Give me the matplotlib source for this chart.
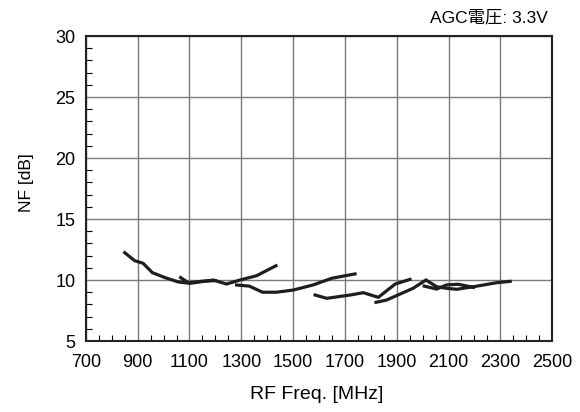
import matplotlib
matplotlib.use("Agg")
import matplotlib.pyplot as plt
from matplotlib.ticker import MultipleLocator

plt.rcParams['font.family'] = ['Liberation Sans', 'Noto Sans CJK JP', 'DejaVu Sans']

# Curves (frequency MHz, NF dB)
f_a = [850, 889, 921, 957, 1005, 1057, 1102, 1192, 1243, 1295, 1359, 1434]
nf_a = [12.24, 11.58, 11.37, 10.6, 10.2, 9.84, 9.73, 10.0, 9.67, 10.0, 10.35, 11.17]

f_b = [1066, 1095, 1150, 1200]
nf_b = [10.2, 9.78, 9.9, 9.95]

f_c = [1282, 1331, 1382, 1436, 1501, 1578, 1649, 1739]
nf_c = [9.59, 9.5, 9.0, 9.0, 9.18, 9.6, 10.14, 10.5]

f_d = [1585, 1630, 1720, 1771, 1829, 1894, 1951]
nf_d = [8.77, 8.5, 8.77, 8.96, 8.58, 9.67, 10.05]

f_e = [1820, 1861, 1963, 2013, 2054, 2093, 2132, 2196, 2286, 2338]
nf_e = [8.17, 8.36, 9.32, 10.0, 9.45, 9.32, 9.24, 9.45, 9.78, 9.89]

f_f = [2006, 2054, 2093, 2138, 2196]
nf_f = [9.5, 9.26, 9.6, 9.65, 9.4]

x_ticks = [700, 900, 1100, 1300, 1500, 1700, 1900, 2100, 2300, 2500]
y_ticks = [5, 10, 15, 20, 25, 30]

fig = plt.figure(figsize=(5.8, 4.12), dpi=100)
ax = fig.add_axes([0.148, 0.1723, 0.804, 0.7403])

for fx, ny in [(f_a, nf_a), (f_b, nf_b), (f_c, nf_c), (f_d, nf_d), (f_e, nf_e), (f_f, nf_f)]:
    ax.plot(fx, ny, color='#1e1e1e', lw=2.3, solid_joinstyle='miter', zorder=3)

ax.set_xlim(700, 2500)
ax.set_ylim(5, 30)
ax.set_xticks(x_ticks)
ax.set_yticks(y_ticks)
ax.xaxis.set_minor_locator(MultipleLocator(50))
ax.yaxis.set_minor_locator(MultipleLocator(1))
ax.grid(True, which='major', color='#7a7a7a', lw=1.0)
ax.tick_params(which='both', direction='in', top=False, right=False, labelsize=13, width=0.8)
ax.tick_params(which='major', length=0)
ax.tick_params(which='minor', length=4)
ax.tick_params(axis='x', which='major', pad=9.5)
ax.tick_params(axis='y', which='major', pad=7.5)
for s in ax.spines.values():
    s.set_linewidth(1.5)
    s.set_color('#222222')

ax.set_xlabel('RF Freq. [MHz]', fontsize=14, va='center')
ax.xaxis.set_label_coords(0.496, -0.177)
ax.set_ylabel('NF [dB]', fontsize=12.5, va='center')
ax.yaxis.set_label_coords(-0.128, 0.52)
fig.text(0.945, 0.958, 'AGC電圧: 3.3V', ha='right', va='center', fontsize=12.5)

fig.savefig('out.png', dpi=100)
